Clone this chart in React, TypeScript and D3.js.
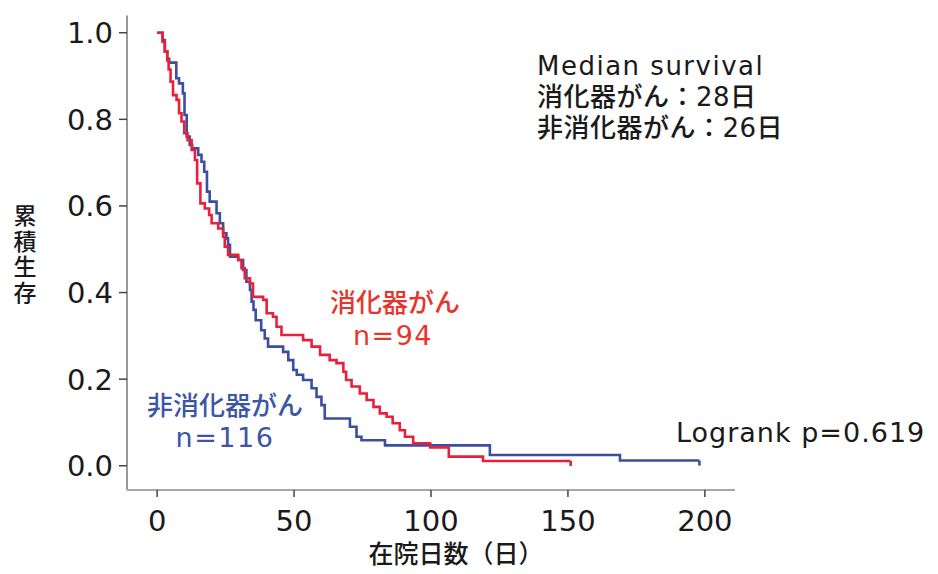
import React, { useEffect, useRef } from "react";
import * as d3 from "d3";

// digestive cancer (n=94): step times (days) and cumulative survival
const redDays = [0, 2, 2.8, 3.7, 4.2, 4.9, 5.8, 7.1, 8, 8.9, 9.9, 11.1, 12.6, 13.8, 14.6, 15.8, 17.4, 19, 19.9, 22.3, 24.1, 24.7, 25.9, 29.6, 30.8, 32, 33.9, 35, 38.7, 40, 42.3, 43.6, 45.4, 53.3, 56.4, 59.5, 63, 65.5, 68, 69, 71, 74, 76.5, 79, 81.3, 83.8, 86, 88.6, 90.5, 93.5, 99.7, 106.5, 119, 151];
const redSurv = [1.0, 0.979, 0.957, 0.936, 0.915, 0.887, 0.856, 0.845, 0.814, 0.795, 0.768, 0.752, 0.729, 0.706, 0.652, 0.606, 0.594, 0.579, 0.56, 0.548, 0.529, 0.506, 0.487, 0.475, 0.456, 0.433, 0.421, 0.39, 0.383, 0.352, 0.344, 0.321, 0.302, 0.29, 0.275, 0.256, 0.244, 0.237, 0.217, 0.198, 0.183, 0.167, 0.152, 0.136, 0.121, 0.113, 0.098, 0.082, 0.067, 0.052, 0.042, 0.021, 0.011, 0.011];

// non-digestive cancer (n=116)
const blueDays = [0, 2, 2.8, 3.7, 4.4, 7, 8, 9.4, 10, 10.8, 11.9, 12.8, 15, 16.2, 17.2, 18.2, 19.2, 21.7, 22.9, 24.1, 25.3, 25.9, 26.6, 29.6, 31.4, 32.6, 33.9, 34.5, 35.2, 36, 38, 39.3, 40.5, 46, 47.9, 49.7, 51, 53.3, 56.4, 58.2, 60, 61.2, 70.4, 72.8, 74.6, 83.2, 121.5, 169, 198];
const blueSurv = [1.0, 0.983, 0.957, 0.94, 0.931, 0.895, 0.883, 0.86, 0.81, 0.76, 0.741, 0.733, 0.718, 0.702, 0.679, 0.633, 0.61, 0.583, 0.56, 0.537, 0.525, 0.51, 0.483, 0.475, 0.452, 0.425, 0.406, 0.379, 0.36, 0.336, 0.313, 0.294, 0.275, 0.263, 0.244, 0.221, 0.21, 0.198, 0.179, 0.159, 0.14, 0.109, 0.09, 0.067, 0.059, 0.047, 0.025, 0.012, 0.012];

const xTicks = [0, 50, 100, 150, 200];
const yTicks = [0, 0.2, 0.4, 0.6, 0.8, 1.0];
const yTitle = ["累", "積", "生", "存"];
const xTitle = "在院日数（日）";
const medianLines = ["Median survival", "消化器がん：28日", "非消化器がん：26日"];

const RED = "#e8203c";
const BLUE = "#3b4ea2";
const FONT = "'DejaVu Sans', 'Noto Sans CJK JP', sans-serif";

function App() {
  const ref = useRef<SVGSVGElement>(null);

  useEffect(() => {
    const svg = d3.select(ref.current);
    svg.selectAll("*").remove();

    const x = d3.scaleLinear().domain([-11, 211]).range([127, 735]);
    const y = d3.scaleLinear().domain([-0.056, 1.04]).range([490, 15.4]);

    // axes
    svg.append("line")
      .attr("x1", 127).attr("x2", 127).attr("y1", y(1.04)).attr("y2", 490)
      .attr("stroke", "#777").attr("stroke-width", 1.5);
    svg.append("line")
      .attr("x1", 127).attr("x2", 735).attr("y1", 490).attr("y2", 490)
      .attr("stroke", "#a8a8a8").attr("stroke-width", 2);

    svg.selectAll("yt").data(yTicks).enter().append("line")
      .attr("x1", 119).attr("x2", 127)
      .attr("y1", d => y(d)).attr("y2", d => y(d))
      .attr("stroke", "#444").attr("stroke-width", 1.5);
    svg.selectAll("yl").data(yTicks).enter().append("text")
      .attr("x", 113).attr("y", d => y(d) + 10.5)
      .attr("text-anchor", "end")
      .style("font-family", FONT).style("font-size", "29px").attr("fill", "#1a1a1a")
      .text(d => d3.format(".1f")(d));

    svg.selectAll("xt").data(xTicks).enter().append("line")
      .attr("x1", d => x(d)).attr("x2", d => x(d))
      .attr("y1", 490).attr("y2", 497)
      .attr("stroke", "#444").attr("stroke-width", 1.5);
    svg.selectAll("xl").data(xTicks).enter().append("text")
      .attr("x", d => x(d)).attr("y", 531)
      .attr("text-anchor", "middle")
      .style("font-family", FONT).style("font-size", "29px").attr("fill", "#1a1a1a")
      .text(d => d);

    // titles
    svg.append("text")
      .attr("x", 456).attr("y", 563)
      .attr("text-anchor", "middle")
      .style("font-family", FONT).style("font-size", "25px").style("font-weight", 500)
      .attr("fill", "#1a1a1a")
      .text(xTitle);
    svg.selectAll("yc").data(yTitle).enter().append("text")
      .attr("x", 25).attr("y", (d, i) => 224 + i * 25.5)
      .attr("text-anchor", "middle")
      .style("font-family", FONT).style("font-size", "23px").style("font-weight", 500)
      .attr("fill", "#1a1a1a")
      .text(d => d);

    // survival curves
    const line = d3.line<[number, number]>()
      .x(d => x(d[0])).y(d => y(d[1]))
      .curve(d3.curveStepAfter);

    const series = [
      { days: blueDays, surv: blueSurv, color: BLUE },
      { days: redDays, surv: redSurv, color: RED },
    ];
    series.forEach(s => {
      const pts = s.days.map((d, i) => [d, s.surv[i]] as [number, number]);
      svg.append("path")
        .attr("d", line(pts))
        .attr("fill", "none").attr("stroke", s.color).attr("stroke-width", 2.6);
      const last = pts[pts.length - 1];
      svg.append("line")
        .attr("x1", x(last[0])).attr("x2", x(last[0]))
        .attr("y1", y(last[1])).attr("y2", y(last[1]) + 5)
        .attr("stroke", s.color).attr("stroke-width", 2.6);
    });

    // annotations
    svg.selectAll("ml").data(medianLines).enter().append("text")
      .attr("x", 537).attr("y", (d, i) => 75 + i * 31)
      .style("font-family", FONT).style("font-size", "26px").style("font-weight", 500)
      .attr("fill", "#1a1a1a")
      .style("letter-spacing", (d, i) => (i === 0 ? "1.5px" : "0.5px"))
      .text(d => d);

    svg.append("text")
      .attr("x", 395).attr("y", 312).attr("text-anchor", "middle")
      .style("font-family", FONT).style("font-size", "26px").style("font-weight", 500)
      .attr("fill", "#e8352c")
      .text("消化器がん");
    svg.append("text")
      .attr("x", 393).attr("y", 345).attr("text-anchor", "middle")
      .style("font-family", FONT).style("font-size", "27px").attr("fill", "#e8352c")
      .style("letter-spacing", "1.5px")
      .text("n=94");

    svg.append("text")
      .attr("x", 225).attr("y", 415).attr("text-anchor", "middle")
      .style("font-family", FONT).style("font-size", "26px").style("font-weight", 500)
      .attr("fill", "#3c55a5")
      .text("非消化器がん");
    svg.append("text")
      .attr("x", 225).attr("y", 447).attr("text-anchor", "middle")
      .style("font-family", FONT).style("font-size", "27px").attr("fill", "#3c55a5")
      .style("letter-spacing", "1.5px")
      .text("n=116");

    svg.append("text")
      .attr("x", 676).attr("y", 442)
      .style("font-family", FONT).style("font-size", "27px").attr("fill", "#1a1a1a")
      .style("letter-spacing", "1px")
      .text("Logrank p=0.619");
  }, []);

  return (
    <svg
      ref={ref}
      width={938}
      height={574}
      style={{ position: "absolute", left: 0, top: 0, background: "#fff" }}
    />
  );
}

export default App;
